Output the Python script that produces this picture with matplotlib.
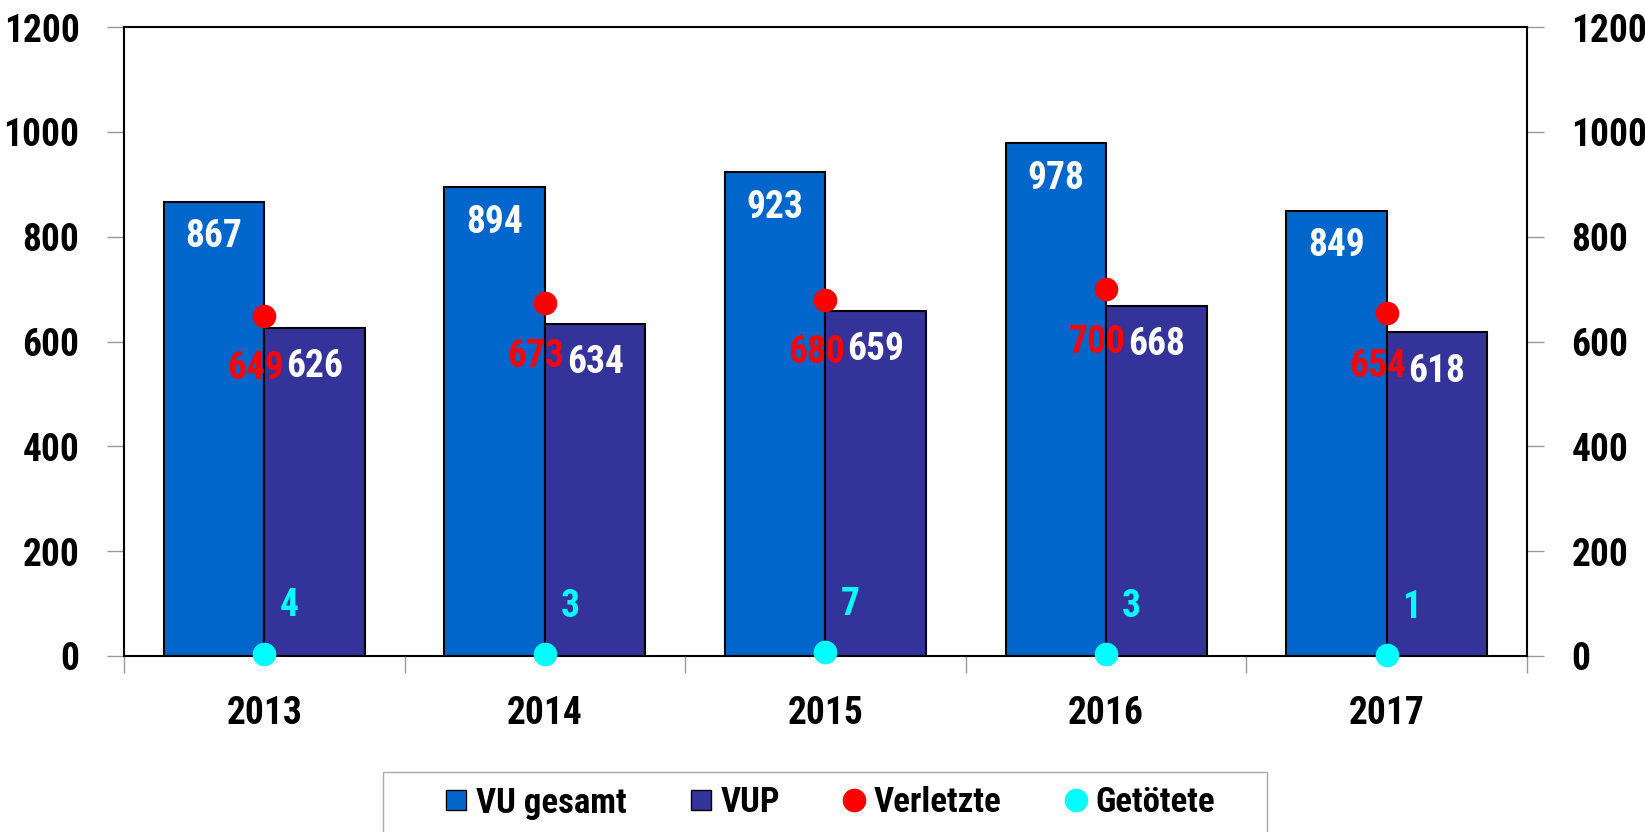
import numpy as np
import matplotlib
matplotlib.use("Agg")
import matplotlib.pyplot as plt
from matplotlib import font_manager
from matplotlib.lines import Line2D
from matplotlib.patches import Rectangle

years = ["2013", "2014", "2015", "2016", "2017"]
vu_gesamt = [867, 894, 923, 978, 849]
vup = [626, 634, 659, 668, 618]
verletzte = [649, 673, 680, 700, 654]
getoetete = [4, 3, 7, 3, 1]

C_VU = "#0066CC"
C_VUP = "#333399"
C_VER = "#FF0000"
C_GET = "#00FFFF"

# a narrow bold face like the original, if one is installed
names = set(f.name for f in font_manager.fontManager.ttflist)
FS = 23
FONT = "Liberation Sans"
for cand, size in [("Liberation Sans Narrow", 28), ("Arial Narrow", 28), ("Roboto Condensed", 27),
		("Open Sans Condensed", 26), ("Noto Sans Condensed", 26)]:
	if cand in names:
		FONT, FS = cand, size
		break
LFS = FS * 25 / 27
plt.rcParams['font.family'] = [FONT, 'DejaVu Sans']
plt.rcParams['font.weight'] = 'bold'

def Main():
	fig = plt.figure(figsize=(16.45, 8.32), dpi=100)
	ax = fig.add_axes([124 / 1645, 1 - 656 / 832, (1527 - 124) / 1645, (656 - 27) / 832])

	x = np.arange(len(years))
	w = 0.358
	ax.bar(x - w / 2, vu_gesamt, w, color=C_VU, edgecolor="black", linewidth=1.5, zorder=2)
	ax.bar(x + w / 2, vup, w, color=C_VUP, edgecolor="black", linewidth=1.5, zorder=2)
	ax.plot(x, verletzte, "o", color=C_VER, markersize=16, linestyle="none", zorder=4, clip_on=False)
	ax.plot(x, getoetete, "o", color=C_GET, markersize=16, linestyle="none", zorder=4, clip_on=False)

	# data labels
	for i in range(len(years)):
		ax.annotate(str(vu_gesamt[i]), (x[i] - w / 2, vu_gesamt[i]), xytext=(0, -35),
			textcoords="offset pixels", ha="center", va="center", color="white", fontsize=FS, zorder=5)
		ax.annotate(str(vup[i]), (x[i] + w / 2, vup[i]), xytext=(0, -39),
			textcoords="offset pixels", ha="center", va="center", color="white", fontsize=FS, zorder=5)
		ax.annotate(str(verletzte[i]), (x[i], verletzte[i]), xytext=(-9, -53),
			textcoords="offset pixels", ha="center", va="center", color=C_VER, fontsize=FS, zorder=5)
		ax.annotate(str(getoetete[i]), (x[i], getoetete[i]), xytext=(25, 48),
			textcoords="offset pixels", ha="center", va="center", color=C_GET, fontsize=FS, zorder=5)

	ax.set_xlim(-0.5, len(years) - 0.5)
	ax.set_ylim(0, 1200)
	ax.set_yticks(np.arange(0, 1201, 200))
	ax.set_xticks(np.arange(-0.5, len(years), 1.0))
	ax.set_xticklabels([])
	ax.set_xticks(x, minor=True)
	ax.set_xticklabels(years, minor=True)
	ax.tick_params(axis="x", which="major", length=12, width=1, color="#999999", direction="out")
	ax.tick_params(axis="x", which="minor", length=0, pad=28, labelsize=FS)
	ax.tick_params(axis="y", length=12, width=1, color="#999999", direction="out", labelsize=FS, pad=20,
		left=True, right=True, labelleft=True, labelright=True)
	for s in ax.spines.values():
		s.set_color("black")
		s.set_linewidth(1.5)

	# legend box runs off the bottom edge like in the original
	fig.add_artist(Rectangle((383 / 1645, -0.02), (1267 - 383) / 1645, 0.02 + 1 - 772 / 832,
		transform=fig.transFigure, fill=False, edgecolor="#AAAAAA", linewidth=1))
	handles = [
		Line2D([], [], marker="s", linestyle="none", markerfacecolor=C_VU, markeredgecolor="black", markersize=14),
		Line2D([], [], marker="s", linestyle="none", markerfacecolor=C_VUP, markeredgecolor="black", markersize=14),
		Line2D([], [], marker="o", linestyle="none", color=C_VER, markersize=16),
		Line2D([], [], marker="o", linestyle="none", color=C_GET, markersize=16),
	]
	fig.legend(handles, ["VU gesamt", "VUP", "Verletzte", "Getötete"], loc="center",
		bbox_to_anchor=(0.5046, 1 - 803 / 832), ncol=4, fontsize=LFS, frameon=False,
		handlelength=0.65, handletextpad=0.25, columnspacing=1.8, borderpad=0)

	fig.savefig("out.png", dpi=100)

if __name__ == "__main__":
	Main()
